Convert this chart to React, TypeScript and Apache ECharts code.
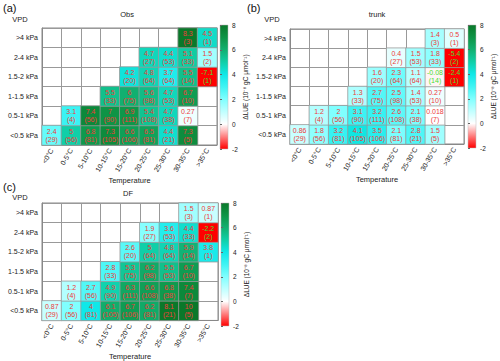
import React, { useEffect, useRef } from 'react';
import * as echarts from 'echarts';

const temps = ['<0°C', '0-5°C', '5-10°C', '10-15°C', '15-20°C', '20-25°C', '25-30°C', '30-35°C', '>35°C'];
const vpds = ['<0.5 kPa', '0.5-1 kPa', '1-1.5 kPa', '1.5-2 kPa', '2-4 kPa', '>4 kPa'];

const counts = [
  [29, 56, 81, 105, 106, 81, 21, 5, null],
  [null, 4, 56, 90, 111, 108, 38, 7, null],
  [null, null, null, 33, 75, 98, 53, 10, null],
  [null, null, null, null, 20, 64, 64, 14, 1],
  [null, null, null, null, null, 27, 53, 33, 2],
  [null, null, null, null, null, null, null, 3, 1],
];

const obsValues = [
  [2.4, 5, 6.8, 7.3, 6.6, 6.5, 4.4, 7.3, null],
  [null, 3.1, 7.4, 7, 6.9, 5.4, 4.7, 0.27, null],
  [null, null, null, 5.5, 6, 5.6, 4.7, 6.7, null],
  [null, null, null, null, 4.2, 4.8, 3.7, 5.5, -7.1],
  [null, null, null, null, null, 4.7, 4.4, 5.1, 1.5],
  [null, null, null, null, null, null, null, 8.3, 4.5],
];

const trunkValues = [
  [0.86, 1.8, 3.2, 4.1, 3.5, 2.1, 2.8, 1.5, null],
  [null, 1.2, 2, 3.1, 3.2, 2.6, 2.1, 0.018, null],
  [null, null, null, 1.3, 2.7, 2.5, 1.4, 0.27, null],
  [null, null, null, null, 1.6, 2.3, 1.1, -0.08, -2.4],
  [null, null, null, null, null, 0.4, 1.5, 1.8, -5.4],
  [null, null, null, null, null, null, null, 1.4, 0.5],
];

const dfValues = [
  [0.87, 2, 4, 6.1, 6.7, 6.2, 8.1, 10, null],
  [null, 1.2, 2.7, 4.9, 6.3, 6.6, 6.8, 7.4, null],
  [null, null, null, 2.8, 5.3, 6.2, 5.5, 6.7, null],
  [null, null, null, null, 2.6, 5, 4.8, 5.9, 3.8],
  [null, null, null, null, null, 1.9, 3.6, 4.4, -2.2],
  [null, null, null, null, null, null, null, 1.5, 0.87],
];

const colorMin = -2;
const colorMax = 8;
const colorInterval = 2;
const palette = ['#ff0000', '#ff8080', '#ffffff', '#c0ffff', '#80ffff', '#40f4f4', '#10e8e8', '#10cfa8', '#12b070', '#0e9446', '#0a782a'];

const FONT = 'Liberation Sans';
const POS_TEXT = '#ee3a3a';
const NEG_TEXT = '#44dd33';

const panels = [
  { tag: '(a)', title: 'Obs', values: obsValues, grid: { left: 42, top: 28, width: 175, height: 117 }, bar: { left: 220, top: 25, width: 8, height: 124 }, tagPos: [3, 2], titlePos: [127, 14], vpdPos: [20, 19] },
  { tag: '(b)', title: 'trunk', values: trunkValues, grid: { left: 290, top: 29, width: 174, height: 115 }, bar: { left: 468, top: 25, width: 8, height: 123 }, tagPos: [247, 2], titlePos: [377, 14], vpdPos: [272, 19] },
  { tag: '(c)', title: 'DF', values: dfValues, grid: { left: 42, top: 203, width: 176, height: 119 }, bar: { left: 221, top: 203, width: 8, height: 123 }, tagPos: [3, 181], titlePos: [128, 193], vpdPos: [20, 197] },
];

export default function App() {
  const ref = useRef<HTMLDivElement>(null);
  useEffect(() => {
    if (!ref.current) return;
    const chart = echarts.init(ref.current, null, { renderer: 'svg' });
    const grids: any[] = [];
    const xAxes: any[] = [];
    const yAxes: any[] = [];
    const series: any[] = [];
    const graphics: any[] = [];
    const stops = palette.map((c, i) => ({ offset: i / (palette.length - 1), color: c }));

    panels.forEach((p, i) => {
      const gi = grids.length;
      grids.push({ ...p.grid, show: true, borderColor: '#888', borderWidth: 1, backgroundColor: 'transparent' });
      xAxes.push({
        type: 'category', gridIndex: gi, data: temps,
        axisLine: { show: true, lineStyle: { color: '#888' } },
        axisTick: { show: false },
        splitLine: { show: true, interval: 0, lineStyle: { color: '#999', width: 1 } },
        axisLabel: { rotate: 60, fontSize: 7, color: '#222', fontFamily: FONT, margin: 4, interval: 0 },
        name: 'Temperature', nameLocation: 'middle', nameGap: 25,
        nameTextStyle: { fontSize: 7.5, color: '#222', fontFamily: FONT },
      });
      yAxes.push({
        type: 'category', gridIndex: gi, data: vpds,
        axisLine: { show: true, lineStyle: { color: '#888' } },
        axisTick: { show: false },
        splitLine: { show: true, interval: 0, lineStyle: { color: '#999', width: 1 } },
        axisLabel: { fontSize: 7, color: '#222', fontFamily: FONT, margin: 4 },
      });
      const data: any[] = [];
      p.values.forEach((row, r) => {
        row.forEach((v, c) => {
          if (v === null) return;
          const cv = Math.max(colorMin, Math.min(colorMax, v));
          data.push({ value: [c, r, v, counts[r][c], cv], label: { color: v < 0 ? NEG_TEXT : POS_TEXT } });
        });
      });
      series.push({
        type: 'heatmap', xAxisIndex: gi, yAxisIndex: gi, data,
        itemStyle: { borderColor: '#999', borderWidth: 0.8 },
        label: {
          show: true, fontSize: 7, lineHeight: 8, fontFamily: FONT,
          formatter: (pp: any) => `${pp.value[2]}\n(${pp.value[3]})`,
        },
        emphasis: { disabled: true },
      });

      // colorbar axis
      const bi = grids.length;
      grids.push({ ...p.bar, show: false });
      xAxes.push({ type: 'value', gridIndex: bi, show: false, min: 0, max: 1 });
      yAxes.push({
        type: 'value', gridIndex: bi, position: 'right', min: colorMin, max: colorMax, interval: colorInterval,
        axisLine: { show: false }, axisTick: { show: true, length: 2, lineStyle: { color: '#666' } },
        splitLine: { show: false },
        axisLabel: { fontSize: 6.5, color: '#222', fontFamily: FONT, margin: 4 },
        name: 'ΔLUE (10⁻⁸ gC μmol⁻¹)', nameLocation: 'middle', nameRotate: 90, nameGap: 14,
        nameTextStyle: { fontSize: 6.5, color: '#222', fontFamily: FONT },
      });
      graphics.push({
        type: 'rect', shape: { x: p.bar.left, y: p.bar.top, width: p.bar.width, height: p.bar.height },
        style: { fill: { type: 'linear', x: 0, y: 1, x2: 0, y2: 0, colorStops: stops }, stroke: '#bbb', lineWidth: 0.5 },
        z: 0,
      });
      graphics.push({ type: 'text', x: p.tagPos[0], y: p.tagPos[1], style: { text: p.tag, fontSize: 11, fontFamily: FONT, fill: '#111' } });
      graphics.push({ type: 'text', x: p.titlePos[0], y: p.titlePos[1], style: { text: p.title, fontSize: 7.5, fontFamily: FONT, fill: '#222', align: 'center', verticalAlign: 'middle' } });
      graphics.push({ type: 'text', x: p.vpdPos[0], y: p.vpdPos[1], style: { text: 'VPD', fontSize: 7.5, fontFamily: FONT, fill: '#222', align: 'center', verticalAlign: 'middle' } });
    });

    chart.setOption({
      animation: false,
      backgroundColor: '#fff',
      grid: grids,
      xAxis: xAxes,
      yAxis: yAxes,
      visualMap: {
        type: 'continuous', show: false, min: colorMin, max: colorMax, dimension: 4,
        seriesIndex: [0, 1, 2], inRange: { color: palette },
      },
      series,
      graphic: graphics,
    });
    return () => chart.dispose();
  }, []);
  return <div ref={ref} style={{ position: 'fixed', left: 0, top: 0, width: 500, height: 361 }} />;
}
